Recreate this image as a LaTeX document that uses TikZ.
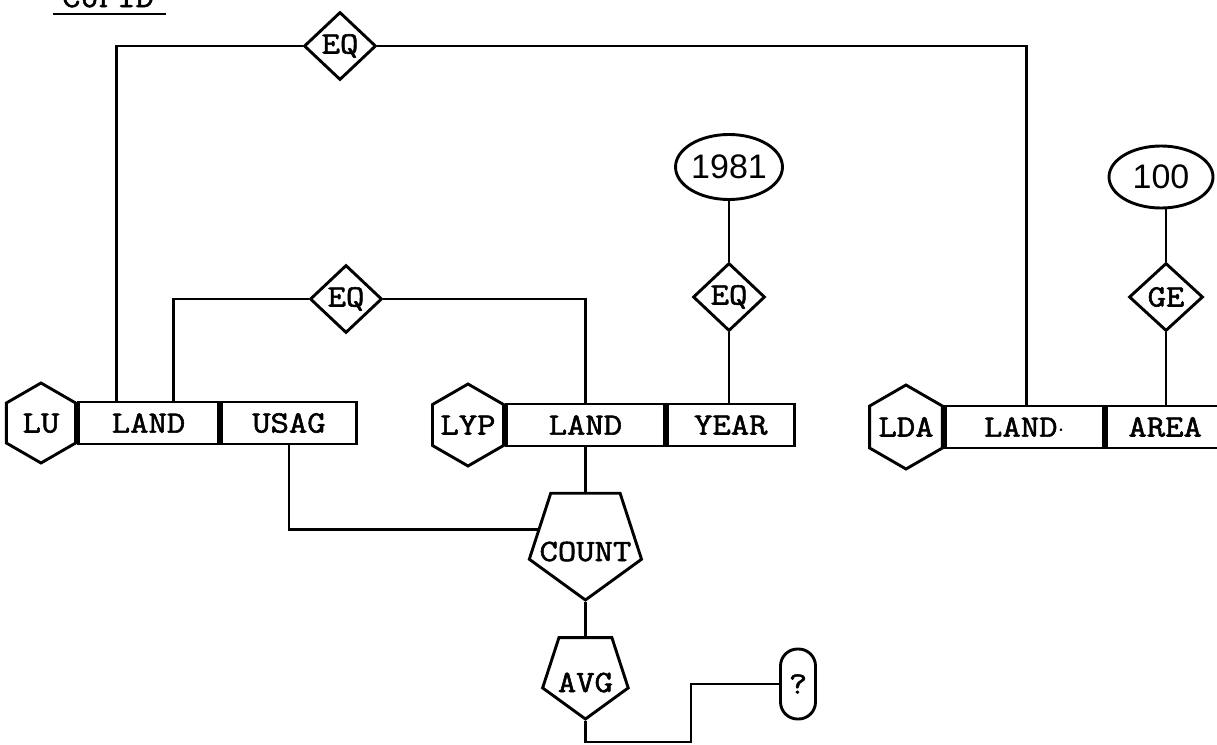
\documentclass[tikz,border=0pt]{standalone}
\usepackage{fontspec}
\usetikzlibrary{shapes.geometric,calc}
\newfontfamily\twfont{Latin Modern Mono}[FakeBold=1.8,FakeStretch=1.15]
\newfontfamily\numfont{Liberation Sans}
\newcommand\ctext[2][-9.5pt]{\raisebox{#1}[0pt][0pt]{\makebox[0pt]{#2}}}
\begin{document}
\begin{tikzpicture}[x=1pt,y=-1pt,
  ln/.style={line width=2.9pt, line join=miter},
  tw/.style={font=\twfont\fontsize{31}{31}\selectfont},
  hexa/.style={ln, draw, tw, regular polygon, regular polygon sides=6, shape border rotate=30, inner sep=0pt, minimum size=#1},
  cell/.style={ln, draw, tw, rectangle, inner sep=0pt, minimum height=42pt, anchor=west, minimum width=#1},
  dia/.style={ln, draw, tw, diamond, inner sep=0pt, minimum width=72pt, minimum height=68pt},
  oval/.style={ln, draw, ellipse, inner sep=0pt, font=\numfont\fontsize{34}{34}\selectfont},
  pent/.style={ln, draw, tw, regular polygon, regular polygon sides=5, shape border rotate=180, inner sep=0pt, minimum size=#1},
  term/.style={ln, draw, tw, rectangle, rounded corners=17pt, inner sep=0pt, minimum width=35pt, minimum height=70pt}
]
\useasboundingbox (0,0) rectangle (1217,744);

% title
\node[tw, anchor=base] (title) at (108,7) {CUPID};
\draw[ln] (53,14) -- (166,14);

% LU relation
\node[hexa=80pt] (LU) at (41,423) {\ctext{LU}};
\node[cell=140pt] (LUland) at (LU.0) {LAND};
\node[cell=135pt] (USAG) at (LUland.east) {USAG};

% LYP relation
\node[hexa=82pt] (LYP) at (468,425) {\ctext{LYP}};
\node[cell=158pt] (LYPland) at (LYP.0) {LAND};
\node[cell=127pt] (YEAR) at (LYPland.east) {YEAR};

% LDA relation
\node[hexa=84pt] (LDA) at (906,427) {\ctext{LDA}};
\node[cell=158pt] (LDAland) at (LDA.0) {LAND$\cdot$};
\node[cell=118pt] (AREA) at (LDAland.east) {AREA};

% comparison diamonds
\node[dia] (EQtop) at (340,46) {EQ};
\node[dia] (EQmid) at (346,299) {EQ};
\node[dia] (EQyear) at (729,297) {EQ};
\node[dia, minimum width=74pt] (GE) at (1166,297) {GE};

% constants
\node[oval, minimum width=95pt, minimum height=65pt] (c1981) at (729,167) {1981};
\node[oval, minimum width=104pt, minimum height=62pt] (c100) at (1161,177) {100};

% aggregates
\node[pent=118pt] (COUNT) at (LYPland.south |- 0,541) {\ctext[-20pt]{COUNT}};
\node[pent=90pt] (AVG) at (LYPland.south |- 0,674) {\ctext[-18pt]{AVG}};
\node[term] (q) at (798,684) {?};
\coordinate (bend) at (691,742);

% connectors
\draw[ln] (EQtop.west) -| ([xshift=-32pt]LUland.north);
\draw[ln] (EQtop.east) -| ([xshift=2pt]LDAland.north);
\draw[ln] (EQmid.west) -| ([xshift=25pt]LUland.north);
\draw[ln] (EQmid.east) -| (LYPland.north);
\draw[ln] (c1981.south) -- (EQyear.north);
\draw[ln] (EQyear.south) -- (EQyear.south |- YEAR.north);
\draw[ln] (GE.north |- c100.south) -- (GE.north);
\draw[ln] (GE.south) -- (GE.south |- AREA.north);
\draw[ln] (LYPland.south) -- (COUNT.90);
\draw[ln] (USAG.south) |- (COUNT.166);
\draw[ln] (COUNT.-90) -- (AVG.90);
\draw[ln] (AVG.-90) |- (bend) |- (q.west);
\end{tikzpicture}
\end{document}
